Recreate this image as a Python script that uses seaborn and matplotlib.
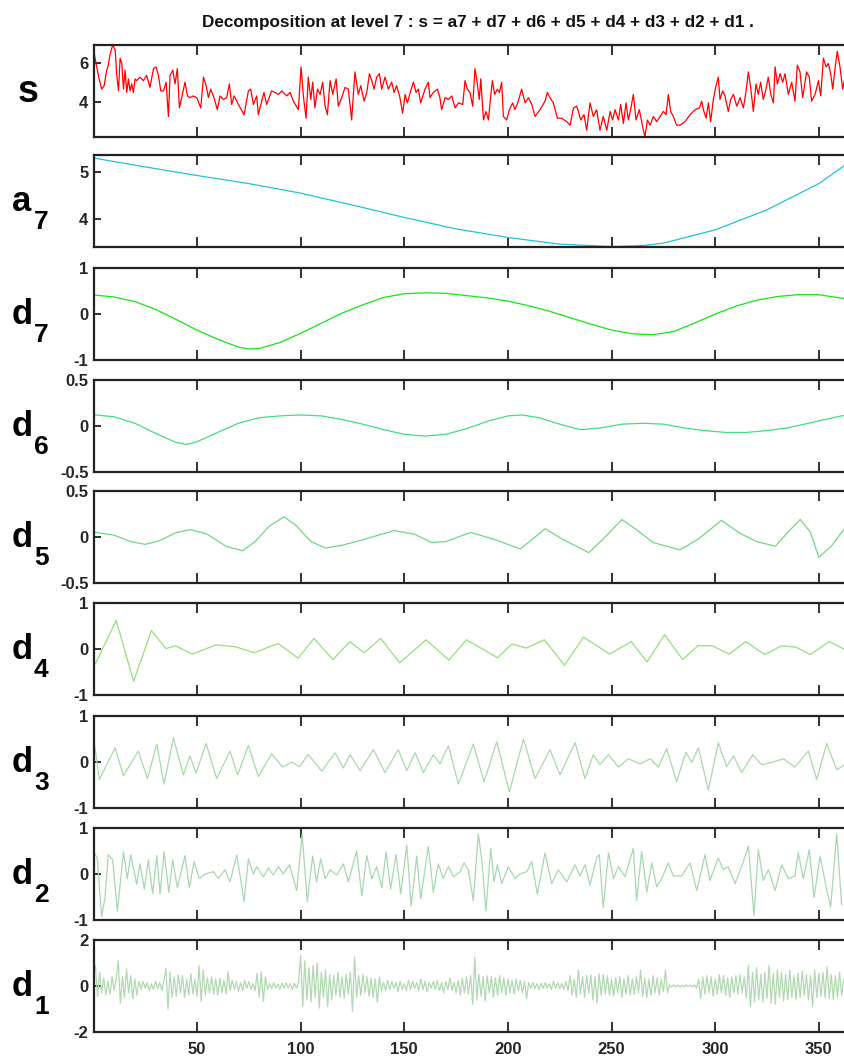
import numpy as np
import matplotlib
matplotlib.use("Agg")
import matplotlib.pyplot as plt
import seaborn as sns

# ---------------- data ----------------
title = "Decomposition at level 7 : s = a7 + d7 + d6 + d5 + d4 + d3 + d2 + d1 ."
x_ticks = [50, 100, 150, 200, 250, 300, 350]

s_x = [0.0, 0.8, 2.4, 4.0, 5.2, 6.4, 7.2, 8.0, 9.3, 10.5,
       11.3, 12.1, 12.9, 13.7, 14.5, 15.3, 16.1, 16.9, 17.7, 18.5,
       19.3, 20.1, 20.9, 22.5, 24.1, 25.7, 27.3, 29.0, 30.2, 31.4,
       32.5, 33.8, 35.1, 36.2, 37.0, 38.3, 39.4, 40.5, 41.5, 42.6,
       44.2, 45.4, 46.6, 48.2, 49.9, 51.8, 53.1, 54.4, 55.5, 56.6,
       58.2, 59.8, 61.1, 62.7, 64.3, 65.6, 66.7, 67.9, 70.0, 72.7,
       74.8, 75.9, 77.2, 78.8, 79.6, 81.2, 82.3, 83.6, 86.0, 87.6,
       89.3, 90.9, 93.3, 94.9, 96.5, 98.9, 100.2, 101.3, 102.6, 103.7,
       104.9, 105.8, 106.9, 108.1, 109.4, 110.6, 111.8, 112.9, 114.2, 115.5,
       117.1, 118.2, 119.8, 121.4, 123.0, 124.6, 126.2, 127.8, 129.0, 130.6,
       131.9, 133.2, 134.3, 135.4, 136.7, 138.0, 139.1, 140.7, 142.3, 143.9,
       145.1, 146.3, 147.9, 149.2, 150.4, 151.5, 153.1, 154.4, 155.7, 156.8,
       157.9, 160.0, 161.6, 162.4, 164.0, 166.0, 167.2, 168.0, 169.7, 171.3,
       172.9, 174.5, 176.1,
       178.2, 179.3, 180.4, 181.7, 183.0, 184.1, 184.9, 186.2, 186.9, 188.2,
       189.4, 190.6, 191.7, 192.5, 193.6, 194.9, 195.9, 197.0, 197.8, 199.4,
       200.7, 202.3, 203.4, 205.0, 206.6, 208.3, 209.9, 211.5, 213.1, 215.5,
       217.9, 219.0, 220.3, 221.9, 223.9, 225.9, 228.4, 230.0, 231.6, 233.2,
       234.0, 235.1, 236.7, 238.0, 239.6, 241.2, 242.8, 244.4, 246.0, 247.7,
       249.3, 250.5, 251.7, 253.3, 254.4, 255.7, 257.0, 258.1, 259.2, 260.5,
       261.8, 263.4, 265.0, 266.1, 267.3, 268.6, 270.2, 271.8, 273.4, 275.0,
       276.3, 277.4, 278.5, 279.8, 281.4, 283.0, 285.4, 287.9, 290.3, 292.4,
       293.5, 294.3, 295.6, 296.7, 297.8, 299.1, 300.4, 301.5, 302.3, 303.6,
       304.7, 306.3, 307.5, 308.8, 310.4, 312.0, 313.6, 314.9, 316.0, 317.1,
       318.4, 319.7, 320.8, 321.9, 323.2, 324.5, 325.6, 326.8, 328.1, 328.9,
       330.0, 331.3, 332.6, 333.7, 335.3, 336.9, 338.5, 339.6, 340.9, 342.2,
       344.1, 345.4, 346.5, 348.2, 349.8, 350.9, 352.2, 353.5, 354.6, 355.7,
       356.7, 357.8, 358.9, 360.2, 361.5, 362.6]
s_y = [6.8, 6.27, 5.38, 4.67, 4.85, 5.65, 5.9, 6.44, 6.95, 6.7,
       5.38, 4.58, 6.27, 6.0, 4.67, 5.65, 4.5, 5.2, 4.58, 4.94,
       4.5, 5.2, 5.11, 5.29, 5.11, 5.38, 4.76, 5.73, 5.82, 5.38,
       4.58, 4.58, 5.03, 3.26, 5.38, 5.65, 4.94, 5.73, 3.7, 4.23,
       5.03, 4.32, 4.23, 4.32, 4.23, 3.7, 5.29, 4.85, 4.23, 4.67,
       4.23, 3.61, 4.32, 4.14, 4.23, 4.94, 3.88, 4.32, 3.88, 3.35,
       4.58, 4.67, 3.88, 4.32, 3.35, 4.05, 4.5, 3.88, 4.58, 4.5,
       4.4, 4.58, 4.32, 4.5, 4.05, 3.61, 5.82, 4.32, 3.17, 5.29,
       4.14, 5.03, 3.7, 4.67, 4.4, 5.03, 3.79, 3.35, 5.11, 4.4,
       5.2, 3.79, 4.23, 4.76, 4.67, 3.08, 5.56, 4.4, 4.85, 4.05,
       4.5, 5.47, 5.11, 4.67, 5.29, 5.47, 4.67, 5.29, 4.67, 5.03,
       4.5, 4.85, 4.23, 3.43, 4.4, 3.96, 4.58, 5.03, 4.5, 4.67,
       3.96, 4.67, 5.03, 4.23, 4.5, 4.67, 4.23, 3.61, 4.23, 4.14,
       4.32, 3.7, 3.96,
       3.88, 5.11, 4.67, 4.5, 3.79, 5.73, 5.2, 4.14, 5.2, 3.08,
       3.52, 3.08, 4.32, 5.11, 4.4, 4.67, 4.5, 5.03, 3.26, 3.08,
       3.61, 3.96, 3.61, 4.05, 4.67, 3.96, 4.23, 3.88, 3.26, 3.61,
       4.05, 4.5, 4.23, 3.96, 3.17, 3.17, 2.99, 2.81, 3.7, 3.79,
       3.52, 3.08, 3.35, 2.55, 3.96, 3.26, 3.61, 2.55, 3.26, 2.55,
       3.52, 3.08, 3.61, 3.08, 3.88, 2.9, 3.96, 3.08, 3.61, 4.4,
       3.08, 3.61, 2.73, 2.2, 3.08, 2.81, 3.26, 2.99, 3.26, 3.52,
       3.35, 4.4, 3.52, 3.26, 2.81, 2.81, 2.99, 3.35, 3.61, 3.7,
       4.05, 3.61, 3.17, 3.96, 2.99, 4.14, 4.85, 5.29, 4.14, 4.58,
       4.32, 3.52, 4.14, 4.4, 3.79, 4.23, 3.7, 4.58, 5.56, 4.76,
       3.52, 4.94, 4.4, 5.03, 4.14, 4.67, 5.29, 4.4, 3.96, 5.82,
       4.94, 5.47, 5.03, 5.47, 4.4, 5.03, 4.05, 5.91, 5.56, 4.23,
       5.56, 5.29, 4.05, 4.4, 5.11, 4.32, 6.27, 5.82, 6.0, 5.47,
       4.67, 5.73, 6.62, 5.82, 4.67, 5.29]

a7_x = [1, 25, 50, 75, 100, 125, 150, 175, 200, 225, 250, 265, 275, 300, 325, 350, 363]
a7_y = [5.28, 5.1, 4.92, 4.75, 4.55, 4.3, 4.04, 3.8, 3.62, 3.48, 3.43, 3.45, 3.5, 3.78, 4.2, 4.75, 5.15]

d7_x = [1, 10, 20, 30, 40, 50, 60, 70, 75, 80, 90, 100, 110, 120, 130, 140, 150, 160,
        170, 180, 190, 200, 210, 220, 230, 240, 250, 260, 270, 280, 290, 300, 310,
        320, 330, 340, 350, 363]
d7_y = [0.41, 0.37, 0.27, 0.1, -0.12, -0.35, -0.55, -0.72, -0.76, -0.75, -0.62, -0.42,
        -0.2, 0.02, 0.2, 0.36, 0.44, 0.46, 0.45, 0.4, 0.35, 0.28, 0.18, 0.06, -0.08,
        -0.22, -0.35, -0.43, -0.45, -0.38, -0.2, 0.0, 0.17, 0.3, 0.38, 0.42, 0.42, 0.33]

d6_x = [1, 10, 20, 30, 40, 45, 50, 60, 70, 80, 90, 100, 110, 120, 130, 140, 150, 160,
        170, 180, 190, 200, 207, 215, 225, 235, 245, 255, 265, 275, 285, 295, 305,
        315, 325, 335, 345, 355, 363]
d6_y = [0.12, 0.1, 0.03, -0.08, -0.18, -0.2, -0.17, -0.07, 0.03, 0.09, 0.11, 0.12,
        0.11, 0.07, 0.02, -0.04, -0.09, -0.11, -0.09, -0.03, 0.05, 0.11, 0.12, 0.09,
        0.02, -0.04, -0.02, 0.02, 0.03, 0.02, -0.02, -0.05, -0.07, -0.07, -0.05,
        -0.02, 0.03, 0.08, 0.12]

d5_x = [1, 10, 18, 25, 32, 40, 47, 55, 64, 72, 78, 85, 92, 98, 105, 112, 120, 130,
        145, 155, 163, 170, 182, 194, 206, 212, 218, 226, 239, 246, 255, 262, 270,
        283, 292, 303, 312, 320, 329, 335, 341, 346, 350, 356, 363]
d5_y = [0.05, 0.02, -0.05, -0.08, -0.04, 0.05, 0.08, 0.03, -0.1, -0.15, -0.05, 0.12,
        0.22, 0.12, -0.05, -0.12, -0.09, -0.03, 0.07, 0.03, -0.06, -0.05, 0.05, -0.03,
        -0.13, -0.02, 0.09, -0.02, -0.17, -0.02, 0.19, 0.08, -0.06, -0.14, -0.02,
        0.18, 0.04, -0.05, -0.1, 0.05, 0.19, 0.05, -0.22, -0.1, 0.11]

d4_x = [1, 11, 19.4, 28, 35, 39.6, 47.7, 59.2, 68.4, 77.6, 89.1, 98.8, 106.4, 115.6,
        123.7, 130.6, 138.6, 147.8, 160.5, 171.5, 180, 195, 201.9, 208.8, 217.6,
        227.3, 236.5, 249.1, 259.5, 267.1, 275.6, 284.3, 291.7, 298.6, 306.7, 314.7,
        323.9, 332, 338.9, 345.8, 355, 362]
d4_y = [-0.32, 0.62, -0.70, 0.40, 0.01, 0.07, -0.11, 0.09, 0.05, -0.08, 0.12, -0.2,
        0.23, -0.23, 0.16, -0.08, 0.23, -0.3, 0.2, -0.24, 0.2, -0.19, 0.11, 0.02, 0.2,
        -0.35, 0.26, -0.11, 0.16, -0.28, 0.31, -0.23, 0.07, 0.07, -0.11, 0.16, -0.12,
        0.07, 0.04, -0.12, 0.16, 0.0]

d3_x = [0.3, 2.9, 10.5, 14.5, 21.7, 26.1, 30.6, 34.1, 38.6, 43.4,
        46.6, 49.5, 54.4, 59.5, 65.9, 69.6, 74.8, 79.6, 86.0, 91.3,
        95.7, 99.4, 103.7, 110.2, 116.6, 120.6, 123.8, 128.7, 135.1, 140.7,
        147.1, 151.2, 155.2, 159.2, 164.0, 167.2, 171.3, 176.1, 183.3, 188.5,
        194.6, 200.7, 207.5, 213.1, 220.3, 225.1, 232.4, 237.2, 241.2, 244.4,
        248.5, 253.3, 258.1, 263.7, 268.6, 272.6, 276.6, 281.4, 285.9, 288.7,
        291.9, 296.7, 301.5, 305.5, 308.8, 312.8, 318.1, 322.4, 327.3, 332.9,
        338.5, 344.9, 349.0, 353.8, 358.6, 362.6]
d3_y = [0.46, -0.38, 0.31, -0.3, 0.24, -0.36, 0.39, -0.48, 0.53, -0.28,
        0.13, -0.24, 0.4, -0.36, 0.24, -0.28, 0.36, -0.32, 0.18, -0.11,
        0.0, -0.1, 0.16, -0.2, 0.2, -0.13, 0.16, -0.19, 0.27, -0.23,
        0.27, -0.19, 0.2, -0.23, 0.16, -0.04, 0.35, -0.48, 0.39, -0.43,
        0.44, -0.65, 0.5, -0.36, 0.27, -0.28, 0.42, -0.36, 0.16, -0.06,
        0.16, -0.11, 0.07, -0.04, 0.07, -0.11, 0.29, -0.43, 0.21, -0.01,
        0.31, -0.61, 0.42, -0.1, 0.13, -0.23, 0.16, -0.06, -0.01, 0.07,
        -0.11, 0.24, -0.38, 0.4, -0.17, -0.06]

d2_x = [0.3, 1.9, 4.0, 5.6, 7.2, 9.3, 11.6, 14.5, 16.4, 18.0,
        20.9, 22.5, 24.6, 26.5, 28.6, 30.6, 32.2, 34.1, 36.4, 38.3,
        40.5, 44.2, 46.3, 48.6, 51.1, 53.9, 57.9, 60.3, 63.5, 65.9,
        69.2, 72.7, 74.8, 77.2, 78.8, 82.0, 84.4, 86.8, 89.3, 91.7,
        94.6, 98.1, 100.7, 103.2, 105.8, 107.7, 109.7, 111.8, 114.2, 117.4,
        120.6, 123.0, 127.0, 129.5, 131.9, 134.3, 136.7, 139.1, 141.2, 143.4,
        146.0, 148.3, 151.2, 153.3, 156.0, 157.9, 161.6, 164.0, 166.4, 168.8,
        171.3, 173.7,
        176.9, 178.8, 180.9, 183.3, 185.7, 187.4, 189.4, 191.7, 193.3, 194.9,
        197.0, 200.2, 203.4, 205.8, 209.1, 211.5, 214.2, 217.9, 221.1, 224.3,
        228.4, 232.4, 234.8, 237.2, 239.6, 242.8, 244.1, 246.0, 248.5, 250.9,
        253.3, 256.5, 260.5, 262.1, 264.5, 267.0, 269.4, 271.8, 274.2, 277.4,
        279.8, 283.8, 287.9, 291.1, 295.1, 297.5, 301.5, 303.9, 306.3, 309.6,
        313.6, 316.0, 318.7, 320.8, 323.2, 325.7, 328.9, 332.1, 335.3, 338.5,
        340.1, 342.5, 345.4, 347.7, 350.6, 353.5, 355.7, 358.6, 361.0]
d2_y = [0.46, 0.35, -0.93, -0.52, 0.42, 0.31, -0.81, 0.48, -0.1, 0.42,
        -0.22, 0.22, -0.33, 0.31, -0.43, 0.4, -0.43, 0.48, -0.4, 0.31,
        -0.3, 0.4, -0.3, 0.27, -0.1, 0.0, 0.05, -0.1, 0.09, -0.17,
        0.42, -0.6, 0.33, 0.0, 0.16, -0.06, 0.13, -0.02, 0.16, 0.0,
        0.2, -0.36, 0.87, -0.6, 0.39, -0.17, 0.33, -0.1, 0.09, -0.02,
        0.22, -0.17, 0.5, -0.47, 0.4, -0.1, 0.16, -0.3, 0.48, -0.33,
        0.42, -0.43, 0.63, -0.69, 0.39, -0.54, 0.6, -0.4, 0.22, -0.1,
        0.16, -0.06,
        0.05, 0.24, 0.09, -0.58, 0.87, 0.31, -0.8, 0.56, -0.17, 0.2,
        -0.21, 0.16, -0.1, 0.0, 0.05, 0.27, -0.44, 0.46, -0.21, 0.09,
        -0.17, 0.2, -0.04, 0.2, -0.24, 0.35, 0.42, -0.73, 0.46, -0.1,
        0.16, -0.06, 0.56, -0.58, 0.49, -0.39, 0.24, -0.28, -0.1, 0.24,
        -0.04, -0.04, 0.24, -0.36, 0.42, -0.14, 0.35, 0.09, 0.16, -0.21,
        0.27, 0.61, -0.91, 0.53, -0.14, 0.09, -0.36, 0.2, -0.1, -0.04,
        0.46, -0.1, 0.53, -0.51, 0.39, -0.28, -0.72, 0.87, -0.67]

d1_y = [0.9, -0.45, 0.6, -0.3, 0.35, -0.4, 0.2, -0.35, 0.4, -0.2, 0.3, 1.1, -0.75, 0.4, -0.5, 0.75, -0.3, 0.45, -0.55, 0.3,
        -0.4, 0.2, -0.15, 0.2, -0.1, 0.15, -0.2, 0.1, -0.15, 0.2, -0.1, 0.15, -0.2, 0.25, 0.77, -1.0, 0.6, -0.5, 0.4, -0.45,
        0.5, -0.3, 0.45, -0.5, 0.3, -0.4, 0.55, -0.35, 0.3, -0.45, 0.9, -0.67, 0.7, -0.4, 0.35, -0.3, 0.4, -0.35, 0.3, -0.4,
        0.35, -0.3, 0.25, -0.35, 0.62, -0.2, 0.25, -0.15, 0.2, -0.25, 0.15, -0.2, 0.25, -0.1, 0.2, -0.15, 0.1, -0.2, 0.55, -0.5,
        0.6, -0.67, 0.4, -0.15, 0.1, -0.12, 0.15, -0.1, 0.08, -0.15, 0.12, -0.1, 0.15, -0.08, 0.1, -0.15, 0.12, -0.1, 0.2, 1.33,
        -0.9, 1.1, -0.6, 0.8, -0.7, 0.9, -0.5, 1.0, -0.96, 0.6, -0.5, 0.7, -0.9, 0.5, -0.6, 0.45, -0.4, 0.6, -0.5, 0.4,
        -0.55, 0.5, -0.35, 0.6, -1.1, 1.26, -0.5, 0.45, -0.4, 0.5, -0.3, 0.4, -0.45, 0.35, -0.5, 0.3, -0.7, 0.4, -0.2, 0.15,
        -0.2, 0.25, -0.15, 0.2, -0.1, 0.15, -0.25, 0.2, -0.15, 0.1, -0.2, 0.25, -0.15, 0.2, -0.1, 0.15, -0.2, 0.3, -0.15, 0.2,
        -0.25, 0.15, -0.1, 0.2, -0.15, 0.25, -0.2, 0.15, -0.3, 0.2, -0.15, 0.35, -0.2, 0.15, -0.3, 0.25, -0.4, 0.35, -0.3, 0.4,
        -0.35, 0.45, -0.8, 1.26, -0.6, 0.5, -0.45, 0.4, -0.65, 0.45, -0.3, 0.4, -0.5, 0.35, -0.4, 0.45, -0.3, 0.35, -0.4, 0.3,
        -0.3, 0.25, -0.35, 0.3, -0.2, 0.25, -0.3, 0.2, -0.55, 0.15, -0.1, 0.15, -0.12, 0.1, -0.15, 0.12, -0.1, 0.15, -0.08, 0.1,
        -0.15, 0.2, -0.1, 0.15, -0.12, 0.1, -0.15, 0.2, -0.2, 0.45, -0.4, 0.3, -0.5, 0.7, -0.35, 0.4, -0.5, 0.45, -0.3, 0.5,
        -0.6, 0.4, -0.74, 0.55, -0.4, 0.5, -0.35, 0.45, -0.4, 0.3, -0.45, 0.35, -0.3, 0.4, -0.5, 0.3, -0.35, 0.45, -0.4, 0.3,
        -0.35, 0.4, -0.3, 0.7, -0.45, 0.35, -0.5, 0.3, -0.4, 0.45, -0.3, 0.35, -0.4, 0.3, -0.25, 0.7, -0.3, 0.05, -0.04, 0.05,
        -0.05, 0.04, -0.05, 0.03, -0.04, 0.05, -0.03, 0.04, -0.05, 0.04, -0.1, 0.3, -0.55, 0.4, -0.35, 0.45, -0.3, 0.4, -0.45, 0.3,
        -0.35, 0.5, -0.3, 0.45, -0.4, 0.35, -0.5, 0.4, -0.3, 0.45, -0.35, 0.5, -0.3, 0.4, -0.5, 0.9, -0.9, 0.6, -0.7, 0.8,
        -0.6, 0.5, -0.7, 0.6, -0.55, 0.9, -0.75, 0.55, -0.8, 0.7, -0.5, 0.6, -0.65, 0.5, -0.6, 0.7, -0.5, 0.45, -0.6, 0.55,
        -0.5, 0.65, -0.4, 0.5, -0.6, 0.45, -0.9, 0.7, -0.5, 0.55, -0.45, 0.6, -0.5, 0.85, -0.55, 0.5, -0.6, 0.45, -0.5, 0.6,
        -0.4, 0.3]
d1_x = list(range(1, len(d1_y) + 1))

panels = [
    ("s", None, s_x, s_y, "#FF0000", (2.2, 6.95), [4, 6], ["4", "6"]),
    ("a", "7", a7_x, a7_y, "#22C3D5", (3.42, 5.35), [4, 5], ["4", "5"]),
    ("d", "7", d7_x, d7_y, "#14E614", (-1, 1), [-1, 0, 1], ["-1", "0", "1"]),
    ("d", "6", d6_x, d6_y, "#45DC85", (-0.5, 0.5), [-0.5, 0, 0.5], ["-0.5", "0", "0.5"]),
    ("d", "5", d5_x, d5_y, "#70D887", (-0.5, 0.5), [-0.5, 0, 0.5], ["-0.5", "0", "0.5"]),
    ("d", "4", d4_x, d4_y, "#95E07A", (-1, 1), [-1, 0, 1], ["-1", "0", "1"]),
    ("d", "3", d3_x, d3_y, "#AAD9AA", (-1, 1), [-1, 0, 1], ["-1", "0", "1"]),
    ("d", "2", d2_x, d2_y, "#A8D8B2", (-1, 1), [-1, 0, 1], ["-1", "0", "1"]),
    ("d", "1", d1_x, d1_y, "#B2D9B2", (-2, 2), [-2, 0, 2], ["-2", "0", "2"]),
]

# ---------------- figure ----------------
sns.set_style("white")
plt.rcParams["font.family"] = ["Liberation Sans Narrow", "Liberation Sans", "DejaVu Sans"]

W, H = 845, 1057
fig = plt.figure(figsize=(W / 100, H / 100), dpi=100)
fig.patch.set_facecolor("white")

left_px, width_px, height_px = 94, 758, 92
tops = [45, 155, 268, 380, 491, 603, 716, 828, 940]

tick_font = dict(fontsize=12, fontweight="bold")

for i, (lab, sub, xs, ys, col, ylim, yt, ytl) in enumerate(panels):
    top = tops[i]
    ax = fig.add_axes([left_px / W, 1 - (top + height_px) / H, width_px / W, height_px / H])
    sns.lineplot(x=xs, y=ys, ax=ax, color=col, linewidth=0.9, sort=False)
    ax.set_xlim(0.3, 366)
    ax.set_ylim(*ylim)
    ax.set_xticks(x_ticks)
    ax.set_yticks(yt)
    ax.set_yticklabels(ytl, **tick_font)
    if i == len(panels) - 1:
        ax.set_xticklabels([str(t) for t in x_ticks], **tick_font)
    else:
        ax.set_xticklabels([])
    ax.set_xlabel("")
    ax.set_ylabel("")
    ax.tick_params(axis="x", direction="in", top=True, bottom=True, length=7, width=1.3,
                   color="#222222", pad=7)
    ax.tick_params(axis="y", direction="in", left=True, right=False, length=5, width=1.3,
                   color="#222222", pad=4)
    for sp in ax.spines.values():
        sp.set_linewidth(1.6)
        sp.set_color("#222222")
    ax.grid(False)

    # row label
    center = top + height_px / 2
    if sub is None:
        fig.text(18 / W, 1 - (center + 11) / H, lab, fontsize=27, fontweight="bold",
                 ha="left", va="baseline", color="black")
    else:
        fig.text(12 / W, 1 - (center + 10) / H, lab, fontsize=25, fontweight="bold",
                 ha="left", va="baseline", color="black")
        fig.text(34 / W, 1 - (center + 28) / H, sub, fontsize=19, fontweight="bold",
                 ha="left", va="baseline", color="black")

fig.text(478 / W, 1 - 22 / H, title, ha="center", va="center", fontsize=12.3,
         fontweight="bold", color="#111111")

fig.savefig("out.png", dpi=100, facecolor="white")
